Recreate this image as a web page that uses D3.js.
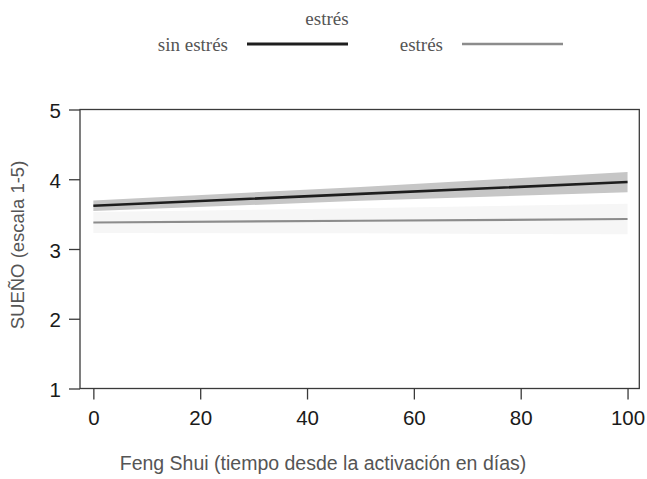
<!DOCTYPE html>
<html>
<head>
<meta charset="utf-8">
<script src="https://cdn.jsdelivr.net/npm/d3@7"></script>
<style>
body { margin: 0; background: #fff; }
svg { display: block; }
</style>
</head>
<body>
<svg width="647" height="479"></svg>
<script>
var svg = d3.select("svg");

// data
var days = [0, 50, 100];
var sinEstres = [3.62, 3.79, 3.96];
var sinEstresLo = [3.545, 3.69, 3.815];
var sinEstresHi = [3.695, 3.89, 4.105];
var estres = [3.38, 3.405, 3.43];
var estresLo = [3.23, 3.225, 3.21];
var estresHi = [3.53, 3.585, 3.65];
var xTicks = [0, 20, 40, 60, 80, 100];
var yTicks = [1, 2, 3, 4, 5];

var x = d3.scaleLinear().domain([-2.5, 102.2]).range([80, 639.3]);
var y = d3.scaleLinear().domain([1, 5]).range([388.5, 109.5]);

function pts(vals) {
    return days.map(function(d, i) { return [d, vals[i]]; });
}

var area = d3.area()
    .x(function(d) { return x(d[0]); })
    .y0(function(d) { return y(d[1]); })
    .y1(function(d) { return y(d[2]); });
var line = d3.line()
    .x(function(d) { return x(d[0]); })
    .y(function(d) { return y(d[1]); });

var band = function(lo, hi) {
    return days.map(function(d, i) { return [d, lo[i], hi[i]]; });
};

//bands first
svg.append("path").attr("d", area(band(estresLo, estresHi)))
    .attr("fill", "#f6f6f6");
svg.append("path").attr("d", area(band(sinEstresLo, sinEstresHi)))
    .attr("fill", "#c6c6c6");

svg.append("path").attr("d", line(pts(estres)))
    .attr("fill", "none").attr("stroke", "#8c8c8c").attr("stroke-width", 2.2);
svg.append("path").attr("d", line(pts(sinEstres)))
    .attr("fill", "none").attr("stroke", "#1e1e1e").attr("stroke-width", 2.6);

// box
svg.append("rect")
    .attr("x", 80).attr("y", 109.5)
    .attr("width", 559.3).attr("height", 279)
    .attr("fill", "none").attr("stroke", "#3a3a3a").attr("stroke-width", 1.3);

var yAxis = svg.append("g").attr("transform", "translate(80,0)")
    .call(d3.axisLeft(y).tickValues(yTicks).tickSize(11).tickPadding(8).tickFormat(d3.format("d")));
var xAxis = svg.append("g").attr("transform", "translate(0,388.5)")
    .call(d3.axisBottom(x).tickValues(xTicks).tickSize(11).tickPadding(11).tickFormat(d3.format("d")));

[yAxis, xAxis].forEach(function(a) {
    a.select(".domain").remove();
    a.selectAll("line").attr("stroke", "#3a3a3a").attr("stroke-width", 1.3);
    a.selectAll("text").attr("fill", "#1a1a1a")
        .style("font-family", "'Liberation Sans', Arial, sans-serif")
        .style("font-size", "20.5px");
});
yAxis.selectAll("text").attr("dy", "0.4em");

svg.append("text")
    .attr("x", 323).attr("y", 470)
    .attr("text-anchor", "middle")
    .attr("fill", "#555")
    .style("font-family", "'Liberation Sans', Arial, sans-serif")
    .style("font-size", "19.5px")
    .text("Feng Shui (tiempo desde la activación en días)");

svg.append("text")
    .attr("transform", "translate(24,245) rotate(-90)")
    .attr("text-anchor", "middle")
    .attr("fill", "#555")
    .style("font-family", "'Liberation Sans', Arial, sans-serif")
    .style("font-size", "18.5px")
    .text("SUEÑO (escala 1-5)");

// legend
var legendTitle = "estrés";
var legendNames = ["sin estrés", "estrés"];
var legendColors = ["#1e1e1e", "#8c8c8c"];
var leg = svg.append("g")
    .style("font-family", "'Liberation Serif', 'Times New Roman', serif")
    .style("font-size", "19px")
    .attr("fill", "#555");
leg.append("text").attr("x", 327).attr("y", 25).attr("text-anchor", "middle").text(legendTitle);
var legX = [228, 443];
legendNames.forEach(function(n, i) {
    leg.append("text").attr("x", legX[i]).attr("y", 51).attr("text-anchor", "end").text(n);
    leg.append("line")
        .attr("x1", legX[i] + 19).attr("x2", legX[i] + 120)
        .attr("y1", 44).attr("y2", 44)
        .attr("stroke", legendColors[i]).attr("stroke-width", i == 0 ? 3 : 2.6);
});
</script>
</body>
</html>
